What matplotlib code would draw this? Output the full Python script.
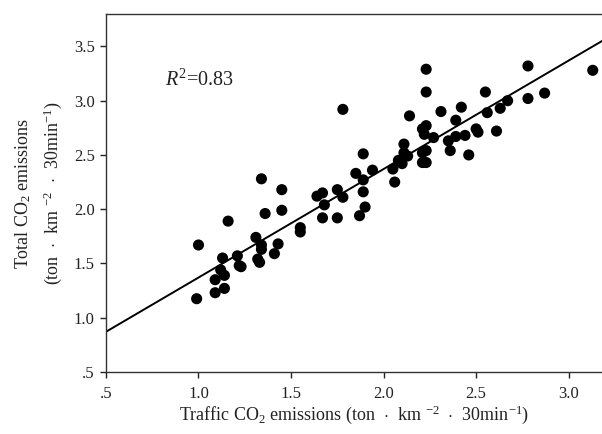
import matplotlib
matplotlib.use("Agg")
import matplotlib.pyplot as plt
import numpy as np

plt.rcParams['font.family'] = ['Liberation Serif', 'DejaVu Serif']
plt.rcParams['mathtext.fontset'] = 'custom'
plt.rcParams['mathtext.rm'] = 'Liberation Serif'
plt.rcParams['mathtext.it'] = 'Liberation Serif:italic'

traffic = [1.00, 0.99, 1.16, 1.09, 1.09, 1.13, 1.12, 1.14, 1.14, 1.21,
           1.22, 1.23, 1.31, 1.34, 1.34, 1.34, 1.32, 1.33, 1.36, 1.41,
           1.43, 1.45, 1.45, 1.55, 1.55, 1.64, 1.67, 1.68, 1.67, 1.75,
           1.78, 1.75, 1.78, 1.85, 1.87, 1.89, 1.89, 1.89, 1.90, 1.94,
           2.05, 2.06, 2.08, 2.10, 2.11, 2.11, 2.13, 2.14, 2.23, 2.23,
           2.21, 2.23, 2.22, 2.21, 2.21, 2.23, 2.23, 2.27, 2.31, 2.35,
           2.36, 2.39, 2.39, 2.42, 2.44, 2.46, 2.50, 2.51, 2.55, 2.56,
           2.61, 2.63, 2.67, 2.78, 2.78, 2.87, 3.13]
total = [1.67, 1.175, 1.89, 1.35, 1.23, 1.55, 1.44, 1.39, 1.27, 1.57,
         1.48, 1.47, 1.74, 2.28, 1.67, 1.63, 1.54, 1.51, 1.96, 1.59,
         1.68, 2.18, 1.99, 1.83, 1.79, 2.12, 2.15, 2.04, 1.92, 2.18,
         2.11, 1.92, 2.92, 2.33, 1.94, 2.51, 2.27, 2.16, 2.02, 2.36,
         2.37, 2.25, 2.45, 2.42, 2.60, 2.52, 2.49, 2.86, 3.29, 3.08,
         2.74, 2.77, 2.69, 2.52, 2.43, 2.54, 2.43, 2.66, 2.90, 2.63,
         2.54, 2.82, 2.67, 2.94, 2.68, 2.50, 2.74, 2.71, 3.08, 2.89,
         2.72, 2.93, 3.00, 3.32, 3.02, 3.07, 3.28]

fit_intercept = 0.37
fit_slope = 1.0
r2_text = "0.83"

x_ticks = [0.5, 1.0, 1.5, 2.0, 2.5, 3.0]
x_tick_labels = [".5", "1.0", "1.5", "2.0", "2.5", "3.0"]
y_ticks = [0.5, 1.0, 1.5, 2.0, 2.5, 3.0, 3.5]
y_tick_labels = [".5", "1.0", "1.5", "2.0", "2.5", "3.0", "3.5"]

fig = plt.figure(figsize=(6.02, 4.34), dpi=100)
ax = fig.add_axes([0.176, 0.143, 0.824, 0.825])

xlim = (0.5, 3.18)
ylim = (0.5, 3.80)

xs = np.array(xlim)
ax.plot(xs, fit_intercept + fit_slope * xs, color='black', lw=1.4, zorder=2)
ax.scatter(traffic, total, s=64, color='black', edgecolors='none', zorder=3)

ax.set_xlim(*xlim)
ax.set_ylim(*ylim)
ax.set_xticks(x_ticks)
ax.set_xticklabels(x_tick_labels)
ax.set_yticks(y_ticks)
ax.set_yticklabels(y_tick_labels)
ax.tick_params(direction='out', length=4, width=1, labelsize=12, colors='#222222')
ax.tick_params(axis='x', pad=6)
ax.tick_params(axis='y', pad=4)

for side in ['left', 'bottom', 'top']:
    ax.spines[side].set_linewidth(1.0)
    ax.spines[side].set_color('#333333')
ax.spines['right'].set_visible(False)

ax.set_xlabel(r"Traffic CO$_2$ emissions (ton  $\cdot$  km $^{-2}$  $\cdot$  30min$^{-1}$)",
              fontsize=13, color='#222222', labelpad=1)
ax.set_ylabel("Total CO$_2$ emissions\n" + r"(ton  $\cdot$  km $^{-2}$  $\cdot$  30min$^{-1}$)",
              fontsize=13, color='#222222', labelpad=7, linespacing=1.55)

ax.text(0.119, 0.816, r"$\mathit{R}^{2}$=" + r2_text, transform=ax.transAxes,
        fontsize=14.5, va='center', ha='left', color='#222222')

fig.savefig("out.png", dpi=100)
